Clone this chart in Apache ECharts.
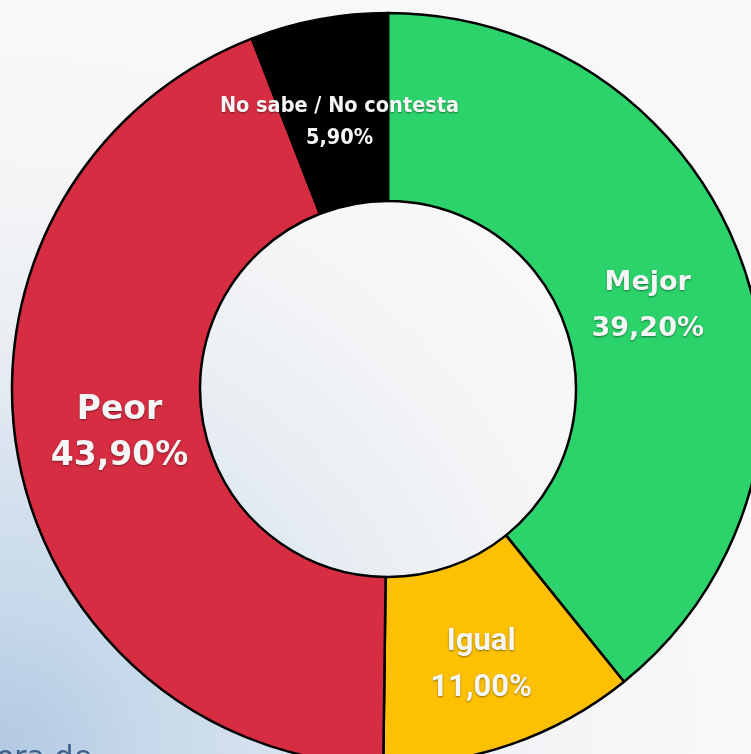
<!DOCTYPE html>
<html>
<head>
<meta charset="utf-8">
<script src="https://cdn.jsdelivr.net/npm/echarts@6/dist/echarts.min.js"></script>
<style>
  html, body { margin: 0; padding: 0; }
  #chart { width: 751px; height: 754px; }
</style>
</head>
<body>
<div id="chart"></div>
<script>
// answers, clockwise from 12 o'clock
const categories = ["Mejor", "Igual", "Peor", "No sabe / No contesta"];
const shares = [39.2, 11.0, 43.9, 5.9];
const sliceColors = ["#2bd36a", "#fdc002", "#d72d43", "#000000"];

// label look per slice (the source mixes fonts, sizes and nudges)
const labelLooks = [
  { family: "DejaVu Sans", size: 27, line: 46, nudge: [-9, 12] },
  { family: "Roboto", size: 31, line: 46, nudge: [0, 7] },
  { family: "DejaVu Sans", size: 33, line: 46, nudge: [12, -6] },
  { family: "DejaVu Sans Condensed", size: 21.5, line: 32, nudge: [4, 14] },
];

function pct(v) {
  return v.toFixed(2).replace(".", ",") + "%";
}

const chart = echarts.init(document.getElementById("chart"), null, { renderer: "canvas" });

const data = categories.map((name, i) => {
  const look = labelLooks[i];
  const txt = {
    color: "#f6f6f6",
    fontFamily: look.family,
    fontWeight: "bold",
    fontSize: look.size,
    lineHeight: look.line,
    textShadowColor: "rgba(0,0,0,0.45)",
    textShadowBlur: 2,
    textShadowOffsetY: 1,
  };
  return {
    name,
    value: shares[i],
    itemStyle: { color: sliceColors[i] },
    label: { offset: look.nudge, rich: { a: txt, b: txt } },
  };
});

chart.setOption({
  animation: false,
  backgroundColor: {
    type: "radial",
    x: 0,
    y: 1,
    r: 0.95,
    colorStops: [
      { offset: 0, color: "#b2c9e2" },
      { offset: 0.2, color: "#c6d8ea" },
      { offset: 0.42, color: "#d9e4ef" },
      { offset: 0.52, color: "#e5ebf2" },
      { offset: 0.64, color: "#edf0f4" },
      { offset: 0.85, color: "#f5f6f7" },
      { offset: 1, color: "#f8f8f8" },
    ],
  },
  graphic: [
    {
      // cut-off caption peeking in at the bottom edge
      type: "text",
      left: -4,
      top: 744,
      silent: true,
      style: {
        text: "ora de",
        fontFamily: "DejaVu Sans",
        fontSize: 30,
        fill: "#3d5e8a",
      },
    },
  ],
  series: [
    {
      type: "pie",
      center: [388, 389],
      radius: [188, 376],
      startAngle: 90,
      clockwise: true,
      avoidLabelOverlap: false,
      itemStyle: { borderColor: "#000", borderWidth: 2.5 },
      label: {
        show: true,
        position: "inside",
        formatter: (p) => "{a|" + p.name + "}\n{b|" + pct(p.value) + "}",
      },
      labelLine: { show: false },
      emphasis: { disabled: true },
      data,
    },
  ],
});
</script>
</body>
</html>
